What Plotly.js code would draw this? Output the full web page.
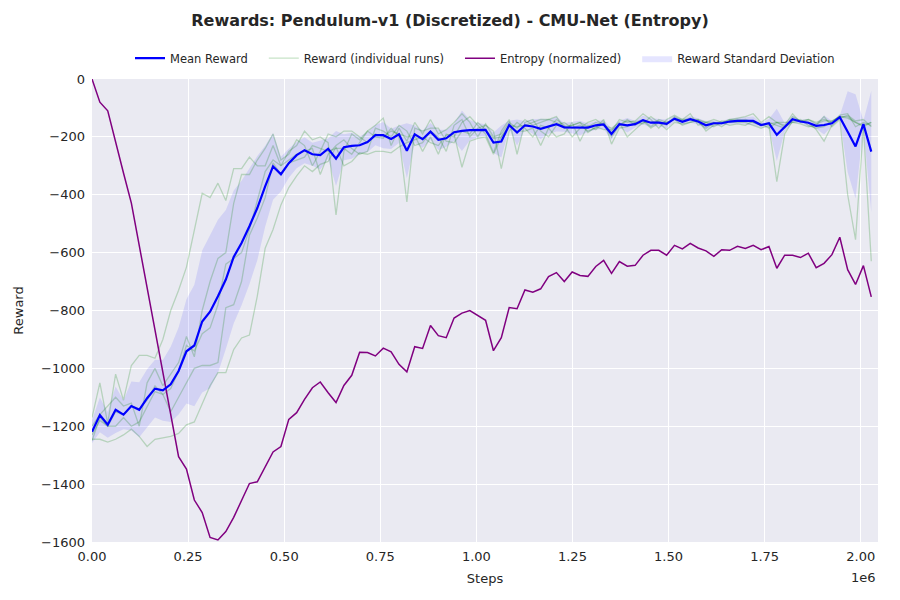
<!DOCTYPE html>
<html>
<head>
<meta charset="utf-8">
<script src="https://cdn.plot.ly/plotly-3.0.1.min.js"></script>
<style>
  html, body { margin: 0; padding: 0; background: #fff; }
  #chart { width: 900px; height: 600px; }
</style>
</head>
<body>
<div id="chart"></div>
<script>
// training steps (x axis)
const steps = [
  0, 20480, 40960, 61440, 81920, 102400, 122880, 143360, 163840, 184320,
  204800, 225280, 245760, 266240, 286720, 307200, 327680, 348160, 368640, 389120,
  409600, 430080, 450560, 471040, 491520, 512000, 532480, 552960, 573440, 593920,
  614400, 634880, 655360, 675840, 696320, 716800, 737280, 757760, 778240, 798720,
  819200, 839680, 860160, 880640, 901120, 921600, 942080, 962560, 983040, 1003520,
  1024000, 1044480, 1064960, 1085440, 1105920, 1126400, 1146880, 1167360, 1187840, 1208320,
  1228800, 1249280, 1269760, 1290240, 1310720, 1331200, 1351680, 1372160, 1392640, 1413120,
  1433600, 1454080, 1474560, 1495040, 1515520, 1536000, 1556480, 1576960, 1597440, 1617920,
  1638400, 1658880, 1679360, 1699840, 1720320, 1740800, 1761280, 1781760, 1802240, 1822720,
  1843200, 1863680, 1884160, 1904640, 1925120, 1945600, 1966080, 1986560, 2007040, 2027520
];

// mean reward over runs
const meanReward = [
  -1219, -1161, -1195, -1143, -1160, -1130, -1143, -1103, -1070, -1076,
  -1055, -1009, -941, -921, -838, -804, -751, -693, -615, -567,
  -509, -446, -371, -302, -329, -291, -263, -246, -260, -263,
  -241, -275, -236, -231, -229, -218, -194, -194, -207, -191,
  -248, -191, -208, -182, -210, -205, -184, -179, -177, -177,
  -176, -220, -216, -159, -185, -160, -164, -172, -164, -156,
  -167, -168, -169, -168, -160, -157, -190, -156, -160, -156,
  -142, -151, -151, -155, -137, -148, -139, -147, -160, -153,
  -153, -147, -145, -145, -145, -159, -153, -193, -167, -139,
  -147, -151, -162, -159, -153, -132, -182, -233, -156, -251
];

// standard deviation of reward over runs
const rewardStd = [
  40, 60, 45, 80, 50, 85, 95, 100, 100, 105,
  130, 150, 180, 210, 245, 265, 265, 240, 230, 215,
  200, 180, 140, 115, 60, 50, 45, 45, 40, 50,
  35, 95, 45, 45, 30, 35, 35, 45, 35, 30,
  95, 30, 30, 30, 35, 30, 30, 70, 35, 25,
  20, 35, 55, 15, 45, 15, 25, 35, 25, 25,
  15, 20, 25, 15, 15, 15, 20, 12, 25, 12,
  15, 15, 12, 15, 10, 10, 12, 10, 15, 10,
  8, 10, 10, 12, 15, 8, 15, 90, 15, 13,
  6, 12, 10, 33, 9, 6, 140, 180, 12, 210
];

// individual runs
const run1 = [
  -1170, -1050, -1190, -1020, -1110, -990, -955, -955, -965, -900,
  -800, -730, -650, -520, -395, -410, -360, -420, -310, -310,
  -270, -300, -300, -230, -300, -250, -230, -180, -210, -200,
  -220, -470, -250, -190, -210, -180, -160, -135, -230, -170,
  -215, -150, -190, -140, -190, -175, -150, -120, -150, -200,
  -155, -200, -190, -150, -170, -140, -160, -150, -140, -130,
  -170, -160, -150, -165, -150, -160, -180, -140, -150, -145,
  -120, -140, -170, -140, -125, -140, -120, -160, -150, -140,
  -150, -140, -135, -130, -120, -150, -130, -150, -160, -120,
  -150, -140, -150, -140, -150, -125, -120, -165, -150, -160
];
const run2 = [
  -1200, -1160, -1130, -1100, -1130, -1120, -1200, -1050, -1000, -1060,
  -1020, -980, -890, -960, -800, -700, -620, -600, -430, -330,
  -330, -280, -240, -190, -280, -260, -210, -230, -300, -250,
  -190, -200, -180, -180, -200, -220, -190, -200, -180, -190,
  -200, -195, -250, -200, -260, -190, -200, -150, -130, -160,
  -190, -255, -180, -140, -260, -150, -140, -180, -200, -160,
  -150, -170, -160, -180, -170, -140, -225, -170, -165, -150,
  -140, -165, -140, -150, -140, -160, -150, -140, -180, -160,
  -145, -150, -150, -150, -160, -170, -160, -355, -190, -145,
  -140, -160, -170, -165, -145, -130, -130, -150, -160, -150
];
const run3 = [
  -1230, -1180, -1200, -1150, -1160, -1130, -1140, -1110, -1060, -1090,
  -1070, -1010, -920, -940, -880, -860, -780, -640, -620, -600,
  -520, -420, -320, -280, -300, -280, -260, -250, -240, -330,
  -260, -230, -210, -240, -260, -250, -170, -180, -200, -160,
  -180, -230, -220, -180, -200, -250, -160, -140, -200, -170,
  -160, -180, -310, -180, -150, -170, -200, -160, -170, -140,
  -160, -200, -170, -150, -140, -160, -170, -150, -200, -175,
  -150, -150, -145, -160, -130, -145, -135, -150, -170, -150,
  -165, -145, -140, -145, -150, -160, -150, -160, -170, -130,
  -145, -150, -175, -215, -160, -135, -125, -145, -140, -165
];
const run4 = [
  -1250, -1170, -1200, -1200, -1170, -1200, -1185, -1130, -1080, -1090,
  -1150, -1100, -1050, -1000, -990, -990, -980, -790, -780, -700,
  -540, -480, -410, -290, -330, -290, -280, -270, -230, -240,
  -250, -240, -240, -260, -220, -180, -200, -205, -170, -200,
  -425, -170, -180, -170, -170, -215, -220, -180, -190, -150,
  -175, -205, -200, -165, -180, -180, -170, -230, -170, -200,
  -190, -150, -215, -160, -175, -150, -200, -160, -140, -160,
  -145, -170, -150, -175, -150, -155, -150, -145, -150, -165,
  -150, -160, -155, -160, -145, -155, -170, -150, -150, -150,
  -155, -165, -160, -130, -165, -140, -400, -555, -165, -150
];
const run5 = [
  -1245, -1245, -1255, -1245, -1230, -1210, -1235, -1270, -1245, -1240,
  -1235, -1225, -1195, -1185, -1125, -1060, -1015, -1015, -935, -895,
  -885, -750, -585, -520, -435, -375, -335, -300, -320, -295,
  -285, -235, -300, -285, -255, -260, -250, -250, -255, -235,
  -220, -210, -200, -220, -230, -195, -190, -305, -215, -205,
  -200, -260, -200, -160, -165, -160, -150, -140, -140, -150,
  -165, -160, -150, -185, -165, -175, -175, -160, -145, -150,
  -155, -130, -150, -150, -140, -140, -140, -140, -150, -150,
  -155, -140, -145, -140, -150, -160, -155, -150, -165, -150,
  -145, -140, -155, -145, -145, -130, -135, -150, -165, -630
];
const runs = [run1, run2, run3, run4, run5];

// policy entropy, normalized to the reward scale
const entropyNorm = [
  0, -80, -110, -222, -325, -429, -575, -720, -860, -1010,
  -1160, -1305, -1348, -1455, -1498, -1584, -1593, -1564, -1515, -1458,
  -1398, -1392, -1340, -1289, -1270, -1176, -1153, -1107, -1067, -1047,
  -1084, -1118, -1059, -1024, -944, -945, -957, -930, -943, -986,
  -1012, -925, -931, -852, -887, -894, -826, -809, -800, -817,
  -834, -939, -894, -790, -794, -729, -737, -725, -683, -669,
  -700, -667, -679, -682, -648, -627, -672, -631, -647, -644,
  -609, -592, -592, -609, -575, -587, -568, -584, -594, -613,
  -590, -592, -578, -586, -575, -590, -579, -654, -609, -609,
  -617, -602, -652, -637, -607, -547, -659, -710, -645, -753
];

const xTickVals = [0, 250000, 500000, 750000, 1000000, 1250000, 1500000, 1750000, 2000000];
const xTickText = ['0.00', '0.25', '0.50', '0.75', '1.00', '1.25', '1.50', '1.75', '2.00'];

const upper = meanReward.map((m, i) => m + rewardStd[i]);
const lower = meanReward.map((m, i) => m - rewardStd[i]);

// a little extra room after each legend label, like the reference
const pad = '\u00a0\u00a0\u00a0';

const traces = [];

// std band: lower edge then upper edge filled to it
traces.push({
  x: steps, y: lower, mode: 'lines', line: { width: 0, color: 'rgba(0,0,255,0)' },
  showlegend: false, hoverinfo: 'skip'
});
traces.push({
  x: steps, y: upper, mode: 'lines', line: { width: 0, color: 'rgba(0,0,255,0)' },
  fill: 'tonexty', fillcolor: 'rgba(0,0,255,0.1)',
  name: 'Reward Standard Deviation', legendrank: 4
});

runs.forEach((r, k) => {
  traces.push({
    x: steps, y: r, mode: 'lines',
    line: { color: 'rgba(0,128,0,0.22)', width: 1.3 },
    name: 'Reward (individual runs)' + pad, legendgroup: 'runs',
    showlegend: k === 0, legendrank: 2
  });
});

traces.push({
  x: steps, y: entropyNorm, mode: 'lines',
  line: { color: '#800080', width: 1.5 },
  name: 'Entropy (normalized)' + pad, legendrank: 3
});

traces.push({
  x: steps, y: meanReward, mode: 'lines',
  line: { color: '#0000ff', width: 2.2 },
  name: 'Mean Reward' + pad, legendrank: 1
});

const layout = {
  width: 900,
  height: 600,
  paper_bgcolor: '#ffffff',
  plot_bgcolor: '#eaeaf2',
  font: { family: 'DejaVu Sans, sans-serif', color: '#262626', size: 13 },
  margin: { l: 92, r: 22, t: 79, b: 58 },
  title: {
    text: '<b>Rewards: Pendulum-v1 (Discretized) - CMU-Net (Entropy)</b>',
    font: { size: 16, color: '#262626' },
    x: 0.5, xref: 'container', xanchor: 'center',
    y: 1 - 20 / 600, yref: 'container', yanchor: 'middle'
  },
  showlegend: true,
  legend: {
    orientation: 'h',
    x: 0.5, xanchor: 'center',
    y: 1.045, yanchor: 'middle',
    font: { size: 11.5, color: '#262626' },
    bgcolor: 'rgba(0,0,0,0)'
  },
  xaxis: {
    range: [0, 2045000],
    tickvals: xTickVals,
    ticktext: xTickText,
    showgrid: true, gridcolor: '#ffffff', gridwidth: 1,
    zeroline: false, showline: false, ticks: '',
    tickfont: { size: 13 },
    ticklabelstandoff: 5,
    title: { text: 'Steps', font: { size: 13 }, standoff: 10 }
  },
  yaxis: {
    range: [-1600, 0],
    dtick: 200,
    showgrid: true, gridcolor: '#ffffff', gridwidth: 1,
    zeroline: false, showline: false, ticks: '',
    tickfont: { size: 13 },
    ticklabelstandoff: 6,
    title: { text: 'Reward', font: { size: 13 }, standoff: 14 }
  },
  annotations: [{
    text: '1e6', showarrow: false,
    xref: 'paper', x: 1, xanchor: 'right',
    yref: 'paper', y: -0.076, yanchor: 'middle',
    font: { size: 13, color: '#262626' }
  }]
};

Plotly.newPlot('chart', traces, layout, { displayModeBar: false, staticPlot: true });
</script>
</body>
</html>
